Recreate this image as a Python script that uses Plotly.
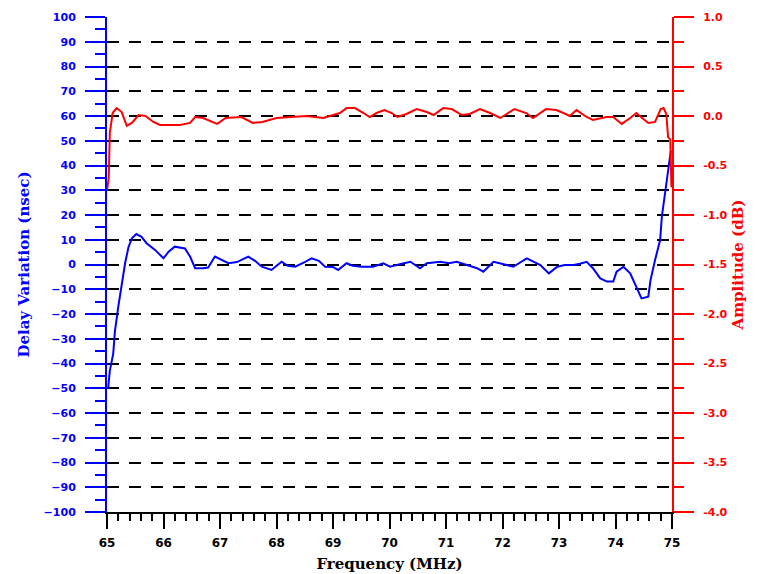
import plotly.graph_objects as go

# Delay variation (nsec) vs frequency (MHz)
delay_freq = [65.02, 65.05, 65.11, 65.14, 65.20, 65.26, 65.32, 65.38, 65.44, 65.52,
              65.61, 65.70, 65.85, 66.00, 66.09, 66.20, 66.38, 66.47, 66.56, 66.70,
              66.79, 66.91, 67.15, 67.30, 67.50, 67.62, 67.74, 67.91, 68.09, 68.20,
              68.33, 68.50, 68.62, 68.75, 68.86, 69.00, 69.09, 69.24, 69.35, 69.50,
              69.71, 69.89, 70.01, 70.20, 70.37, 70.54, 70.66, 70.90, 71.05, 71.19,
              71.40, 71.55, 71.66, 71.84, 71.95, 72.08, 72.19, 72.43, 72.67, 72.82,
              72.97, 73.10, 73.26, 73.37, 73.49, 73.60, 73.73, 73.85, 73.96, 74.02,
              74.14, 74.26, 74.37, 74.46, 74.58, 74.62, 74.70, 74.79, 74.82, 74.88,
              74.92, 74.96, 74.98]
delay_nsec = [-50, -43, -36, -27, -17, -8, 0.5, 7, 10.6, 12.3,
              11.2, 8.6, 5.9, 2.5, 5.2, 7.2, 6.5, 3.2, -1.5, -1.5,
              -1.2, 3.2, 0.5, 1.0, 3.2, 1.5, -0.9, -2.2, 1.1, -0.5,
              -0.9, 1.0, 2.5, 1.5, -0.9, -1.0, -2.2, 0.5, -0.5, -0.9,
              -0.9, 0.5, -0.9, 0.2, 1.1, -1.5, 0.5, 1.1, 0.5, 1.1,
              -0.5, -1.5, -2.9, 1.1, 0.5, -0.2, -0.9, 2.5, -0.2, -3.6,
              -0.9, -0.2, -0.2, 0.3, 1.1, -1.5, -5.6, -6.9, -6.9, -2.9,
              -0.9, -3.6, -9, -13.7, -13, -6.3, 1.8, 9.9, 19.3, 28.8,
              35.5, 42.9, 46]

# Amplitude (dB) vs frequency (MHz)
amp_freq = [65.00, 65.03, 65.05, 65.10, 65.17, 65.26, 65.35, 65.44, 65.56, 65.68,
            65.82, 65.94, 66.10, 66.29, 66.47, 66.56, 66.70, 66.85, 66.95, 67.10,
            67.38, 67.58, 67.75, 68.00, 68.30, 68.53, 68.83, 69.12, 69.24, 69.39,
            69.54, 69.65, 69.77, 69.91, 70.04, 70.14, 70.30, 70.48, 70.66, 70.78,
            70.95, 71.10, 71.28, 71.42, 71.60, 71.78, 71.96, 72.21, 72.42, 72.54,
            72.77, 72.95, 73.08, 73.19, 73.31, 73.49, 73.60, 73.84, 73.96, 74.11,
            74.26, 74.37, 74.45, 74.58, 74.70, 74.80, 74.85, 74.90, 74.93, 74.97,
            74.99]
amp_db = [-0.75, -0.63, -0.17, 0.03, 0.08, 0.04, -0.10, -0.07, 0.01, 0.0,
          -0.06, -0.09, -0.09, -0.09, -0.07, -0.01, -0.02, -0.06, -0.08, -0.02,
          -0.01, -0.07, -0.06, -0.02, -0.01, 0.0, -0.02, 0.03, 0.08, 0.08,
          0.03, -0.01, 0.03, 0.06, 0.03, -0.01, 0.02, 0.07, 0.04, 0.01,
          0.08, 0.07, 0.01, 0.02, 0.07, 0.03, -0.02, 0.07, 0.03, -0.02,
          0.07, 0.06, 0.03, 0.0, 0.06, -0.01, -0.04, -0.01, -0.01, -0.08,
          -0.02, 0.03, -0.01, -0.07, -0.06, 0.07, 0.08, 0.02, -0.21, -0.24,
          -0.72]

x_ticks = [65, 66, 67, 68, 69, 70, 71, 72, 73, 74, 75]
y_ticks = list(range(-100, 101, 10))
y2_ticks = [1.0, 0.5, 0.0, -0.5, -1.0, -1.5, -2.0, -2.5, -3.0, -3.5, -4.0]
y2_labels = ["%.1f" % v for v in y2_ticks]

BLUE = "#0000ff"
RED = "#ff0000"
SERIF = "DejaVu Serif"
SANS = "DejaVu Sans"

fig = go.Figure()
fig.add_trace(go.Scatter(x=delay_freq, y=delay_nsec, mode="lines",
                         line=dict(color=BLUE, width=2), yaxis="y",
                         showlegend=False))
fig.add_trace(go.Scatter(x=amp_freq, y=amp_db, mode="lines",
                         line=dict(color=RED, width=2), yaxis="y2",
                         showlegend=False))

fig.update_layout(
    width=774, height=574,
    margin=dict(l=99, r=110, t=9, b=70),
    paper_bgcolor="white", plot_bgcolor="white",
    xaxis=dict(
        range=[65, 75], tickvals=x_ticks, ticks="outside", ticklen=15,
        tickwidth=2, tickcolor="black", showline=True, linecolor="black",
        linewidth=2, showgrid=False, zeroline=False, automargin=False,
        ticklabelstandoff=4,
        minor=dict(dtick=0.2, ticks="outside", ticklen=7, tickwidth=2,
                   tickcolor="black", showgrid=False),
        tickfont=dict(family=SANS, size=12, color="black", weight="bold"),
        title=dict(text="Frequency (MHz)", standoff=9,
                   font=dict(family=SERIF, size=15, color="black", weight="bold")),
    ),
    yaxis=dict(
        range=[-100, 100], tickvals=y_ticks, ticks="outside", ticklen=20,
        tickwidth=2, tickcolor=BLUE, showline=True, linecolor=BLUE,
        linewidth=2, showgrid=True, gridcolor="black", gridwidth=2,
        griddash="12px,10px", zeroline=False, automargin=False,
        ticklabelstandoff=7,
        minor=dict(dtick=5, ticks="outside", ticklen=10, tickwidth=2,
                   tickcolor=BLUE, showgrid=False),
        tickfont=dict(family=SANS, size=11, color=BLUE, weight="bold"),
        title=dict(text="Delay Variation (nsec)", standoff=10,
                   font=dict(family=SERIF, size=15, color=BLUE, weight="bold")),
    ),
    yaxis2=dict(
        range=[-4, 1], tickvals=y2_ticks, ticktext=y2_labels, overlaying="y",
        side="right", ticks="outside", ticklen=20, tickwidth=2,
        tickcolor=RED, showline=True, linecolor=RED, linewidth=2,
        showgrid=False, zeroline=False, automargin=False,
        ticklabelstandoff=7,
        minor=dict(dtick=0.25, ticks="outside", ticklen=10, tickwidth=2,
                   tickcolor=RED, showgrid=False),
        tickfont=dict(family=SANS, size=11, color=RED, weight="bold"),
        title=dict(text="Amplitude (dB)", standoff=6,
                   font=dict(family=SERIF, size=15, color=RED, weight="bold")),
    ),
)

fig.write_html("out.html")
